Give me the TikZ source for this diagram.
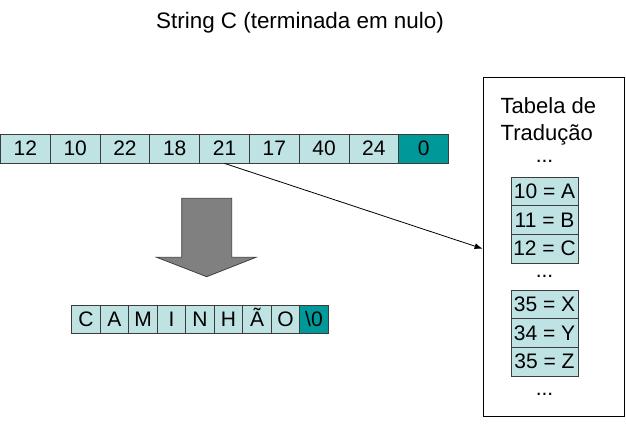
\documentclass[tikz,border=0pt]{standalone}
\usepackage{fontspec}
\setmainfont{Liberation Sans}
\usetikzlibrary{arrows.meta}
\definecolor{cellfill}{RGB}{191,227,227}
\definecolor{tealfill}{RGB}{0,153,153}
\definecolor{cellline}{RGB}{60,60,60}
\begin{document}
\begin{tikzpicture}[x=1pt,y=-1pt,
  cellbox/.style={draw=cellline,line width=0.8pt,fill=cellfill,rectangle,inner sep=0pt,
    minimum height=29pt,font=\fontsize{21}{25}\selectfont},
  topcell/.style={cellbox,minimum width=49.78pt},
  botcell/.style={cellbox,minimum width=28.5pt,minimum height=28.3pt,text height=15pt,text depth=0pt},
  tabcell/.style={cellbox,minimum width=67pt,minimum height=28.7pt},
  endcell/.style={fill=tealfill},
  dots/.style={anchor=base,inner sep=0pt,font=\fontsize{21}{25}\selectfont},
  label/.style={anchor=base west,inner sep=0pt,font=\fontsize{22}{26}\selectfont}
]
\useasboundingbox (0,0) rectangle (626,426);
\fill[white] (0,0) rectangle (626,426);

\node[anchor=base,inner sep=0pt,font=\fontsize{22.4}{26}\selectfont] (title) at (300,28.5) {String C (terminada em nulo)};

% top array
\foreach \v [count=\i from 0] in {12,10,22,18,21,17,40,24}{
  \node[topcell] (t\i) at (25.4+49.78*\i,148.5) {\v};
}
\node[topcell,endcell] (t8) at (25.4+49.78*8,148.5) {0};

% bottom array
\foreach \v [count=\i from 0] in {C,A,M,I,N,H,Ã,O}{
  \node[botcell] (b\i) at (86+28.5*\i,319.2) {\v};
}
\node[botcell,endcell] (b8) at (86+28.5*8,319.2) {\textbackslash 0};

% big arrow
\draw[fill=gray!100,draw=black!75,line width=0.8pt]
  (181.7,198.3) -- (231.7,198.3) -- (231.7,257.3) -- (256,257.3) -- (206.7,276.7)
  -- (156.7,257.3) -- (181.7,257.3) -- cycle;

% translation table
\node[draw=black,line width=0.9pt,rectangle,inner sep=0pt,minimum width=141pt,minimum height=339pt] (outer) at (553.5,246.5) {};
\node[label] (ttl1) at (500.5,113) {Tabela de};
\node[label] (ttl2) at (500.5,140) {Tradução};
\node[dots] (d1) at (544.5,162) {...};
\node[tabcell] (c10) at (544.5,191.3) {10 = A};
\node[tabcell] (c11) at (544.5,220) {11 = B};
\node[tabcell] (c12) at (544.5,248.7) {12 = C};
\node[dots] (d2) at (544.5,277) {...};
\node[tabcell] (c35) at (544.5,304.3) {35 = X};
\node[tabcell] (c34) at (544.5,333) {34 = Y};
\node[tabcell] (c35z) at (544.5,361.7) {35 = Z};
\node[dots] (d3) at (544.5,395) {...};

\draw[line width=0.8pt,-{Latex[length=8pt,width=6pt]}] (t4.south) -- (outer.west |- c12);
\end{tikzpicture}
\end{document}
